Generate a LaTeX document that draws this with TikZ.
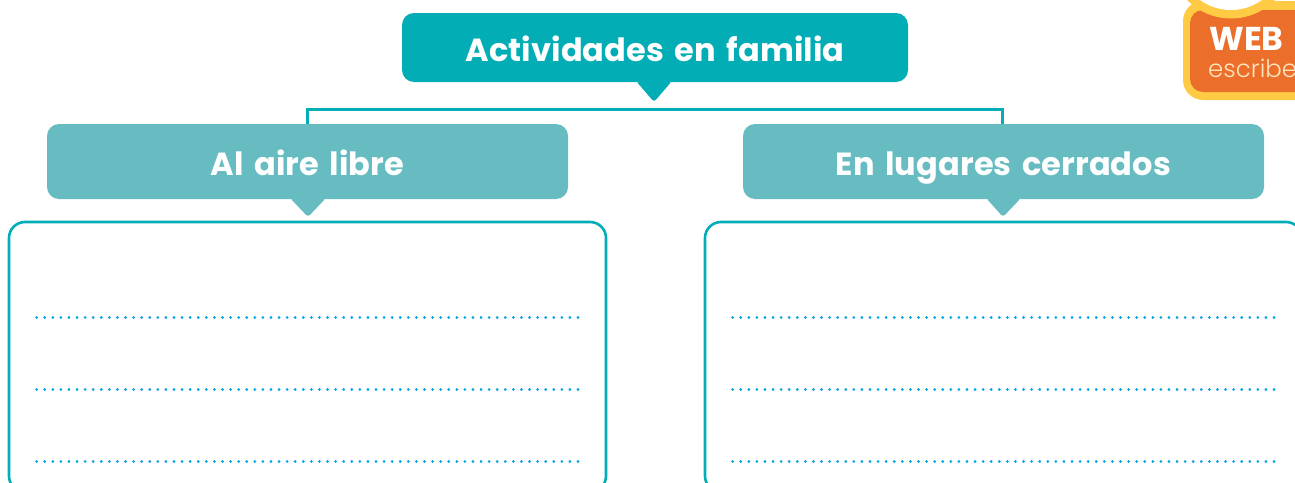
\documentclass[tikz,border=0pt]{standalone}
\usepackage{fontspec}
\setmainfont{Poppins}
\newfontfamily\headfont{Poppins}[BoldFont=*-Bold,WordSpace=1.5,LetterSpace=0.4]
\newfontfamily\lightfont{Poppins Light}
\definecolor{tealdark}{HTML}{02ADB5}
\definecolor{teallight}{HTML}{67BCC2}
\definecolor{dotblue}{HTML}{0FA5E3}
\definecolor{badgeorange}{HTML}{EC6E2B}
\definecolor{badgeyellow}{HTML}{FFCB44}
\definecolor{badgetext}{HTML}{FFE3BC}
\tikzset{
  titlebox/.style={fill=tealdark,rounded corners=12pt,minimum width=506pt,minimum height=69pt,inner sep=0pt,text=white,text height=27pt,text depth=0pt,font=\fontsize{32}{36}\selectfont\headfont\bfseries},
  subbox/.style={fill=teallight,rounded corners=12pt,minimum width=521pt,minimum height=75pt,inner sep=0pt,text=white,text height=27pt,text depth=0pt,font=\fontsize{32}{36}\selectfont\headfont\bfseries},
  framebox/.style={draw=tealdark,line width=2.6pt,rounded corners=16pt,minimum width=597pt,minimum height=270pt,inner sep=0pt},
  busline/.style={draw=tealdark,line width=3pt},
  writeline/.style={dotblue,line width=2.7pt,line cap=round,dash pattern=on 0.3pt off 7.78pt}
}
\begin{document}
\begin{tikzpicture}[x=1pt,y=-1pt]
\useasboundingbox (0,0) rectangle (1295,482);
\clip (0,0) rectangle (1295,482);
% badge
\fill[badgeyellow,rounded corners=20pt] (1183,1) rectangle (1340,100);
\fill[badgeorange,rounded corners=13pt] (1190,10) rectangle (1340,92);
\fill[badgeyellow] (1231,-43) circle (61.5pt);
\fill[white] (1231,-43) circle (53pt);
\node[text=white,font=\fontsize{33}{36}\selectfont\bfseries,inner sep=0pt,anchor=base] (web) at (1246.5,50) {WEB};
\node[text=badgetext,font=\fontsize{24.5}{30}\selectfont\lightfont,inner sep=0pt,anchor=base west] (esc) at (1208,77) {escribe};
% boxes and connector
\coordinate (bus) at (654,109);
\node[subbox] (left) at (307.5,161.5) {Al aire libre};
\node[subbox] (right) at (1003.5,161.5) {En lugares cerrados};
\draw[busline] (left.north) |- (bus) -| ([xshift=-1.5pt]right.north);
\node[titlebox] (title) at (655,47.5) {Actividades en familia};
% pointers
\fill[tealdark,rounded corners=3pt] (636,81) -- (654,102) -- (672,81) -- cycle;
\fill[teallight,rounded corners=3pt] (290,198) -- (308,217) -- (326,198) -- cycle;
\fill[teallight,rounded corners=3pt] (986,198) -- (1003,217) -- (1021,198) -- cycle;
% frames
\node[framebox] (fl) at (307.5,357) {};
\node[framebox] (fr) at (1003.5,357) {};
% lines
\foreach \y in {317.5,389.5,461.5}{
  \draw[writeline] (36.5,\y) -- (580,\y);
  \draw[writeline] (732.5,\y) -- (1276,\y);
}
\end{tikzpicture}
\end{document}
